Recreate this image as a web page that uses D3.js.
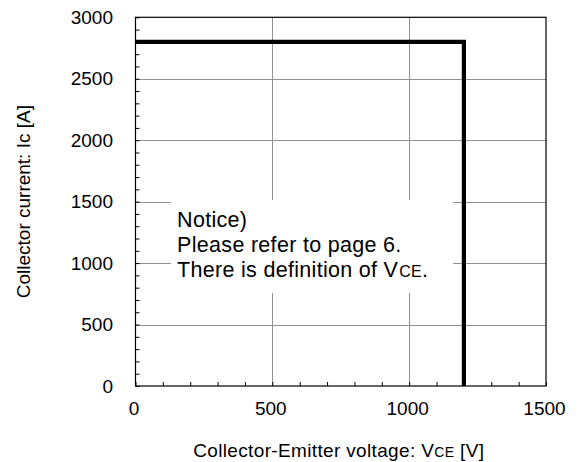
<!DOCTYPE html>
<html>
<head>
<meta charset="utf-8">
<script src="https://cdn.jsdelivr.net/npm/d3@7"></script>
<style>
  html, body { margin: 0; padding: 0; background: #fff; }
  svg { display: block; }
  text { font-family: Arial, "Liberation Sans", Helvetica, sans-serif; fill: #000; }
</style>
</head>
<body>
<svg id="chart" width="580" height="462"></svg>
<script>
// ---- data ----
const xTicks = [0, 500, 1000, 1500];
const yTicks = [0, 500, 1000, 1500, 2000, 2500, 3000];
const xMinor = d3.range(0, 1501, 100);
const yMinor = d3.range(0, 3001, 100);
const rbsoaV = [0, 1200, 1200];       // Collector-Emitter voltage [V]
const rbsoaI = [2800, 2800, 0];       // Collector current [A]
const xTitle = ["Collector-Emitter voltage: V", "CE", " [V]"];
const yTitle = "Collector current: Ic [A]";
const notice = ["Notice)", "Please refer to page 6.", "There is definition of V"];
const noticeSub = "CE";
const noticeBox = { v0: 130, v1: 1160, i0: 757, i1: 1513, vText: 152 };

// ---- layout ----
const svg = d3.select("#chart");
const L = 135.5, R = 546, T = 17.3, B = 386;
const x = d3.scaleLinear().domain([0, 1500]).range([L, R]);
const y = d3.scaleLinear().domain([0, 3000]).range([B, T]);

// gridlines
const g = svg.append("g");
g.selectAll("line.gx").data(xTicks.filter(d => d > 0 && d < 1500)).join("line")
  .attr("x1", d => Math.round(x(d)) + 0.5).attr("x2", d => Math.round(x(d)) + 0.5)
  .attr("y1", T).attr("y2", B).attr("stroke", "#929292").attr("stroke-width", 1);
g.selectAll("line.gy").data(yTicks.filter(d => d > 0 && d < 3000)).join("line")
  .attr("y1", d => Math.round(y(d)) + 0.5).attr("y2", d => Math.round(y(d)) + 0.5)
  .attr("x1", L).attr("x2", R).attr("stroke", "#929292").attr("stroke-width", 1);

// notice box (white background hides gridlines)
svg.append("rect")
  .attr("x", x(noticeBox.v0)).attr("y", y(noticeBox.i1))
  .attr("width", x(noticeBox.v1) - x(noticeBox.v0))
  .attr("height", y(noticeBox.i0) - y(noticeBox.i1))
  .attr("fill", "#fff");

// minor ticks (inside)
const minorX = svg.append("g").attr("transform", `translate(0,${B})`)
  .call(d3.axisBottom(x).tickValues(xMinor).tickSize(-4).tickFormat(""));
const minorY = svg.append("g").attr("transform", `translate(${L},0)`)
  .call(d3.axisLeft(y).tickValues(yMinor).tickSize(-4).tickFormat(""));
[minorX, minorY].forEach(a => {
  a.select(".domain").remove();
  a.selectAll("line").attr("stroke", "#000").attr("stroke-width", 1);
});

// tick labels
const ax = svg.append("g").attr("transform", `translate(0,${B})`)
  .call(d3.axisBottom(x).tickValues(xTicks).tickSize(0).tickPadding(15.5).tickFormat(d3.format("d")));
ax.select(".domain").remove();
ax.selectAll("text").attr("font-size", 19).attr("font-family", null).attr("dx", -2);

const ay = svg.append("g").attr("transform", `translate(${L},0)`)
  .call(d3.axisLeft(y).tickValues(yTicks).tickSize(0).tickPadding(22.5).tickFormat(d3.format("d")));
ay.select(".domain").remove();
ay.selectAll("text").attr("font-size", 19).attr("font-family", null);

// frame
svg.append("rect").attr("x", L).attr("y", T).attr("width", R - L).attr("height", B - T)
  .attr("fill", "none").attr("stroke", "#000").attr("stroke-width", 1.2);

// data line
const pts = rbsoaV.map((v, i) => [v, rbsoaI[i]]);
svg.append("path")
  .attr("d", d3.line().x(d => x(d[0])).y(d => y(d[1]))(pts))
  .attr("fill", "none").attr("stroke", "#000").attr("stroke-width", 4.2)
  .attr("stroke-linejoin", "miter").attr("stroke-linecap", "butt");

// notice text
const nt = svg.append("text").attr("font-size", 21.5).attr("letter-spacing", 0.3);
notice.forEach((line, i) => {
  nt.append("tspan").attr("x", x(noticeBox.vText))
    .attr("y", y(noticeBox.i1) + 27.3 + i * 25).text(line);
});
nt.append("tspan").attr("font-size", 16).attr("dx", 1).text(noticeSub);
nt.append("tspan").text(".");

// axis titles
const xt = svg.append("text").attr("x", (L + R) / 2 - 2).attr("y", 456.7)
  .attr("text-anchor", "middle").attr("font-size", 19).attr("letter-spacing", 0.35);
xt.append("tspan").text(xTitle[0]);
xt.append("tspan").attr("font-size", 14).text(xTitle[1]);
xt.append("tspan").text(xTitle[2]);

svg.append("text")
  .attr("transform", `translate(30,${(T + B) / 2}) rotate(-90)`)
  .attr("text-anchor", "middle").attr("font-size", 19).text(yTitle);
</script>
</body>
</html>
